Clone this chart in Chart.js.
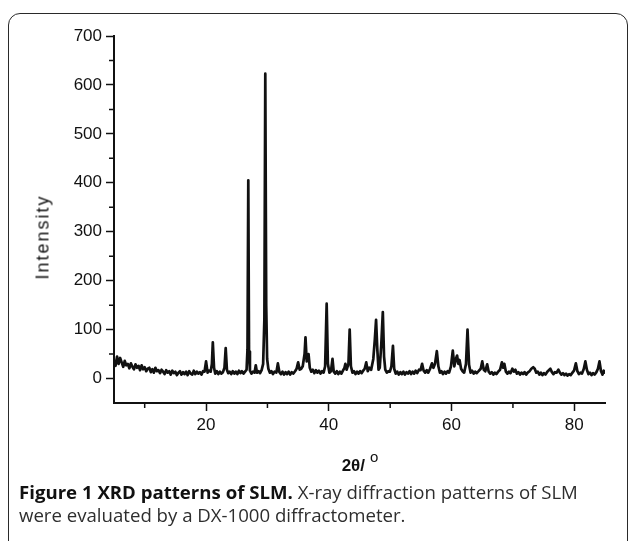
<!DOCTYPE html>
<html><head><meta charset="utf-8">
<script src="https://cdn.jsdelivr.net/npm/chart.js@4.4.1/dist/chart.umd.min.js"></script>
<style>
html,body{margin:0;padding:0;background:#fff;}
body{width:629px;height:541px;position:relative;overflow:hidden;}
#frame{position:absolute;left:8px;top:13px;width:618px;height:600px;border:1.5px solid #2a2a2a;border-radius:12px;}
#c{position:absolute;left:0;top:0;}
#ytitle{position:absolute;left:43px;top:237px;transform:translate(-50%,-50%) rotate(-90deg);font:18px 'Liberation Sans',Arial,sans-serif;letter-spacing:2px;color:#111;white-space:nowrap;}
#xtitle{position:absolute;left:360px;top:466px;transform:translate(-50%,-50%);font:bold 17px 'Liberation Sans',Arial,sans-serif;color:#111;white-space:nowrap;}
#xtitle .deg{font-weight:normal;font-size:15px;position:relative;top:-9px;margin-left:5px;}
#caption{position:absolute;left:19px;top:480px;font-family:'Open Sans',sans-serif;font-size:17px;line-height:23px;color:#2e2e2e;white-space:nowrap;}
#caption b{color:#111;font-weight:700;}
</style></head>
<body>
<div id="frame"></div>
<canvas id="c" width="629" height="541"></canvas>
<div id="ytitle">Intensity</div>
<div id="xtitle">2θ/<span class="deg">o</span></div>
<div id="caption"><span id="l1"><b>Figure 1 XRD patterns of SLM.</b> X-ray diffraction patterns of SLM</span><br>were evaluated by a DX-1000 diffractometer.</div>
<script>
const twoTheta = [
 5, 5.25, 5.5, 5.75, 6, 6.25, 6.5, 6.75, 7, 7.25,
 7.5, 7.75, 8, 8.25, 8.5, 8.75, 9, 9.25, 9.5, 9.75,
 10, 10.25, 10.5, 10.75, 11, 11.25, 11.5, 11.75, 12, 12.25,
 12.5, 12.75, 13, 13.25, 13.5, 13.75, 14, 14.25, 14.5, 14.75,
 15, 15.25, 15.5, 15.75, 16, 16.25, 16.5, 16.75, 17, 17.25,
 17.5, 17.75, 18, 18.25, 18.5, 18.75, 19, 19.25, 19.5, 19.75,
 20, 20.25, 20.5, 20.75, 20.95, 21.1, 21.3, 21.5, 21.75, 22,
 22.25, 22.5, 22.75, 23, 23.2, 23.4, 23.6, 23.85, 24.1, 24.35,
 24.6, 24.85, 25.1, 25.35, 25.6, 25.85, 26.1, 26.35, 26.6, 26.75,
 26.88, 27, 27.15, 27.4, 27.65, 27.9, 28.1, 28.3, 28.55, 28.8,
 29.05, 29.3, 29.5, 29.65, 29.8, 29.95, 30.15, 30.4, 30.65, 30.9,
 31.15, 31.45, 31.7, 31.95, 32.2, 32.45, 32.7, 32.95, 33.2, 33.45,
 33.7, 33.95, 34.2, 34.5, 34.75, 35, 35.25, 35.5, 35.75, 36.05,
 36.2, 36.4, 36.7, 36.9, 37.15, 37.4, 37.65, 37.9, 38.15, 38.4,
 38.65, 38.9, 39.15, 39.4, 39.65, 39.85, 40.1, 40.35, 40.6, 40.8,
 41.05, 41.3, 41.55, 41.8, 42.05, 42.3, 42.55, 42.7, 42.9, 43.2,
 43.4, 43.6, 43.85, 44.1, 44.35, 44.6, 44.85, 45.1, 45.35, 45.6,
 45.85, 46.1, 46.35, 46.6, 46.9, 47.25, 47.5, 47.7, 47.9, 48.1,
 48.3, 48.55, 48.8, 49, 49.2, 49.45, 49.7, 49.95, 50.2, 50.45,
 50.65, 50.9, 51.15, 51.4, 51.65, 51.9, 52.15, 52.4, 52.65, 52.9,
 53.15, 53.4, 53.65, 53.9, 54.15, 54.4, 54.7, 54.95, 55.2, 55.45,
 55.7, 55.95, 56.2, 56.5, 56.8, 57.05, 57.3, 57.6, 57.85, 58.1,
 58.35, 58.6, 58.85, 59.1, 59.35, 59.6, 59.9, 60.2, 60.45, 60.7,
 60.9, 61.1, 61.3, 61.55, 61.8, 62.05, 62.35, 62.6, 62.85, 63.1,
 63.35, 63.6, 63.85, 64.1, 64.4, 64.75, 65, 65.25, 65.5, 65.8,
 66.05, 66.3, 66.55, 66.8, 67.05, 67.3, 67.6, 67.9, 68.2, 68.4,
 68.6, 68.85, 69.1, 69.35, 69.6, 69.9, 70.15, 70.4, 70.65, 70.9,
 71.15, 71.4, 71.65, 71.9, 72.15, 72.4, 72.7, 73, 73.3, 73.55,
 73.8, 74.05, 74.3, 74.55, 74.8, 75.05, 75.3, 75.6, 75.85, 76.1,
 76.35, 76.6, 76.85, 77.1, 77.4, 77.65, 77.9, 78.15, 78.4, 78.65,
 78.9, 79.15, 79.4, 79.7, 79.95, 80.25, 80.5, 80.75, 81, 81.25,
 81.55, 81.8, 82.05, 82.3, 82.55, 82.8, 83.05, 83.3, 83.6, 83.85,
 84.1, 84.35, 84.6, 84.8, 85
];
const intensity = [
 38, 26, 45, 30, 42, 33, 24, 36, 27, 30,
 21, 31, 24, 19, 29, 22, 26, 17, 27, 19,
 23, 15, 20, 22, 13, 19, 12, 22, 15, 17,
 11, 18, 14, 9, 17, 12, 15, 8, 16, 11,
 14, 7, 12, 15, 8, 13, 9, 14, 7, 15,
 10, 8, 16, 9, 14, 10, 13, 8, 15, 14,
 35, 12, 16, 14, 30, 74, 22, 10, 15, 9,
 14, 10, 13, 22, 62, 18, 11, 14, 9, 15,
 10, 14, 9, 16, 11, 15, 10, 14, 18, 60,
 405, 55, 16, 10, 14, 12, 27, 12, 15, 11,
 17, 30, 120, 623, 150, 40, 20, 12, 15, 9,
 14, 12, 31, 13, 9, 14, 8, 13, 9, 14,
 8, 13, 10, 15, 20, 33, 18, 20, 25, 50,
 84, 35, 50, 22, 14, 18, 11, 17, 12, 16,
 10, 15, 12, 25, 153, 30, 12, 15, 40, 14,
 10, 15, 9, 14, 10, 16, 22, 30, 18, 30,
 100, 25, 12, 15, 9, 14, 10, 15, 11, 16,
 20, 33, 15, 22, 18, 40, 80, 120, 60, 18,
 22, 70, 136, 45, 18, 12, 15, 14, 25, 67,
 20, 10, 14, 8, 13, 9, 14, 8, 13, 10,
 15, 9, 14, 10, 16, 11, 18, 17, 30, 16,
 12, 17, 12, 20, 31, 22, 30, 56, 25, 12,
 15, 9, 14, 10, 15, 12, 25, 57, 25, 40,
 47, 30, 38, 20, 15, 12, 30, 100, 28, 12,
 16, 10, 14, 11, 15, 20, 35, 18, 15, 29,
 14, 10, 13, 8, 12, 9, 14, 18, 33, 22,
 30, 14, 10, 14, 11, 20, 14, 18, 10, 13,
 8, 12, 9, 13, 8, 12, 15, 20, 23, 20,
 12, 14, 8, 12, 7, 11, 8, 14, 17, 20,
 13, 9, 13, 12, 18, 12, 8, 11, 7, 10,
 6, 9, 7, 12, 16, 31, 15, 9, 12, 10,
 20, 35, 18, 9, 12, 7, 11, 8, 13, 20,
 35, 15, 8, 16, 10
];
const xMajorTicks = [20, 40, 60, 80];
const xMinorTicks = [10, 30, 50, 70];
const yMajorTicks = [0, 100, 200, 300, 400, 500, 600, 700];
const yMinorTicks = [50, 150, 250, 350, 450, 550, 650];

const axisColor = '#111';
const tickFont = {family: "'Liberation Sans', Arial, sans-serif", size: 17};

const minorTickPlugin = {
  id: 'minorTicks',
  afterDraw(chart) {
    const {ctx, scales: {x, y}} = chart;
    ctx.save();
    ctx.strokeStyle = axisColor;
    ctx.lineWidth = 1.5;
    ctx.beginPath();
    yMinorTicks.forEach(v => {
      const py = y.getPixelForValue(v);
      ctx.moveTo(x.left - 5, py); ctx.lineTo(x.left, py);
    });
    xMinorTicks.forEach(v => {
      const px = x.getPixelForValue(v);
      ctx.moveTo(px, y.bottom); ctx.lineTo(px, y.bottom + 5);
    });
    ctx.stroke();
    ctx.restore();
  }
};

new Chart(document.getElementById('c'), {
  type: 'line',
  data: {
    datasets: [{
      data: twoTheta.map((t, i) => ({x: t, y: intensity[i]})),
      borderColor: '#111',
      borderWidth: 2.7,
      borderJoinStyle: 'round',
      pointRadius: 0,
      tension: 0,
      fill: false
    }]
  },
  options: {
    responsive: false,
    animation: false,
    devicePixelRatio: 1,
    layout: {padding: {top: 36, left: 0, right: 24, bottom: 63}},
    plugins: {legend: {display: false}, tooltip: {enabled: false}},
    scales: {
      x: {
        type: 'linear', position: 'bottom', min: 5, max: 85,
        afterBuildTicks: s => { s.ticks = xMajorTicks.map(v => ({value: v})); },
        afterFit: s => { s.height = 75; },
        grid: {display: true, drawOnChartArea: false, drawTicks: true, tickLength: 8, tickColor: axisColor, tickWidth: 1.5},
        border: {display: true, color: axisColor, width: 2},
        ticks: {font: tickFont, color: axisColor, padding: 4, maxRotation: 0, autoSkip: false, callback: v => String(v)}
      },
      y: {
        type: 'linear', position: 'left', min: -50, max: 700,
        afterBuildTicks: s => { s.ticks = yMajorTicks.map(v => ({value: v})); },
        afterFit: s => { s.width = 114; },
        grid: {display: true, drawOnChartArea: false, drawTicks: true, tickLength: 8, tickColor: axisColor, tickWidth: 1.5},
        border: {display: true, color: axisColor, width: 2},
        ticks: {font: tickFont, color: axisColor, padding: 4, autoSkip: false, callback: v => String(v)}
      }
    }
  },
  plugins: [minorTickPlugin]
});

// fit caption first line to the reference width
(function () {
  const l1 = document.getElementById('l1');
  const cap = document.getElementById('caption');
  const target = 559;
  const w = l1.getBoundingClientRect().width;
  if (w > 0) cap.style.fontSize = (17 * target / w).toFixed(2) + 'px';
})();
</script>
</body></html>
